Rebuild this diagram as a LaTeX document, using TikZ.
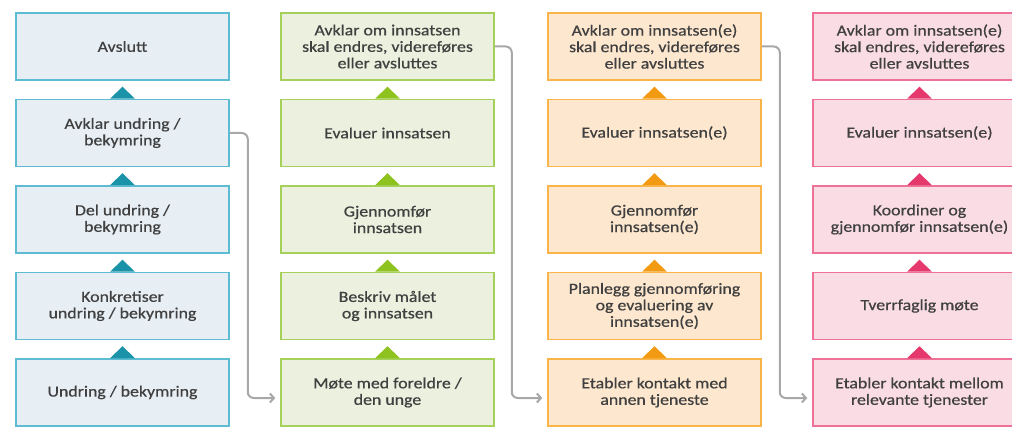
\documentclass[tikz,border=0pt]{standalone}
\usepackage{fontspec}
\setmainfont{Carlito}[FakeStretch=1.15,FakeBold=0.6]
\usetikzlibrary{arrows.meta}
\definecolor{txt}{HTML}{404040}
\definecolor{fA}{HTML}{E7EEF4}\definecolor{dA}{HTML}{5DBCD2}\definecolor{tA}{HTML}{1A92A8}
\definecolor{fB}{HTML}{EBF1DE}\definecolor{dB}{HTML}{A5D05A}\definecolor{tB}{HTML}{8DC21F}
\definecolor{fC}{HTML}{FDE8CF}\definecolor{dC}{HTML}{F9B54A}\definecolor{tC}{HTML}{F39A13}
\definecolor{fD}{HTML}{FADCE4}\definecolor{dD}{HTML}{EE7198}\definecolor{tD}{HTML}{E5396E}
\definecolor{conncol}{HTML}{A8A8A8}
\begin{document}
\begin{tikzpicture}[x=1pt,y=-1pt,
  stepbox/.style={draw, line width=1.5pt, minimum width=213pt, minimum height=67pt,
    inner sep=0pt, align=center, text=txt, font=\fontsize{15.5}{16.5}\selectfont},
  boxA/.style={stepbox, fill=fA, draw=dA},
  boxB/.style={stepbox, fill=fB, draw=dB},
  boxC/.style={stepbox, fill=fC, draw=dC},
  boxD/.style={stepbox, fill=fD, draw=dD},
  conn/.style={draw=conncol, line width=2pt, rounded corners=6pt,
    -{Straight Barb[length=4pt,width=9pt]}, shorten >=5pt}]
\useasboundingbox (0,0) rectangle (1012,438);
\clip (0,0) rectangle (1012,438);
% column 1
\node[boxA] (a1) at (122.5,46.5) {Avslutt};
\node[boxA] (a2) at (122.5,133) {Avklar undring /\\bekymring};
\node[boxA] (a3) at (122.5,219.5) {Del undring /\\bekymring};
\node[boxA] (a4) at (122.5,306) {Konkretiser\\undring / bekymring};
\node[boxA] (a5) at (122.5,392.5) {Undring / bekymring};
% column 2
\node[boxB] (b1) at (387.5,46.5) {Avklar om innsatsen\\skal endres, videreføres\\eller avsluttes};
\node[boxB] (b2) at (387.5,133) {Evaluer innsatsen};
\node[boxB] (b3) at (387.5,219.5) {Gjennomfør\\innsatsen};
\node[boxB] (b4) at (387.5,306) {Beskriv målet\\og innsatsen};
\node[boxB] (b5) at (387.5,392.5) {Møte med foreldre /\\den unge};
% column 3
\node[boxC] (c1) at (654.5,46.5) {Avklar om innsatsen(e)\\skal endres, videreføres\\eller avsluttes};
\node[boxC] (c2) at (654.5,133) {Evaluer innsatsen(e)};
\node[boxC] (c3) at (654.5,219.5) {Gjennomfør\\innsatsen(e)};
\node[boxC] (c4) at (654.5,306) {Planlegg gjennomføring\\og evaluering av\\innsatsen(e)};
\node[boxC] (c5) at (654.5,392.5) {Etabler kontakt med\\annen tjeneste};
% column 4
\node[boxD] (d1) at (919.5,46.5) {Avklar om innsatsen(e)\\skal endres, videreføres\\eller avsluttes};
\node[boxD] (d2) at (919.5,133) {Evaluer innsatsen(e)};
\node[boxD] (d3) at (919.5,219.5) {Koordiner og\\gjennomfør innsatsen(e)};
\node[boxD] (d4) at (919.5,306) {Tverrfaglig møte};
\node[boxD] (d5) at (919.5,392.5) {Etabler kontakt mellom\\relevante tjenester};
% triangles
\foreach \c/\t in {a/tA,b/tB,c/tC,d/tD}{
  \foreach \r in {2,3,4,5}{
    \fill[\t] (\c\r.north) ++(-12.5,0) -- ++(25,0) -- ++(-12.5,-12) -- cycle;
  }
}
% connectors
\draw[conn] (a2.east) -- ++(18,0) |- ([yshift=-5.5pt]b5.west);
\draw[conn] (b1.east) -- ++(17,0) |- ([yshift=-5.5pt]c5.west);
\draw[conn] (c1.east) -- ++(18,0) |- ([yshift=-5.5pt]d5.west);
\end{tikzpicture}
\end{document}
